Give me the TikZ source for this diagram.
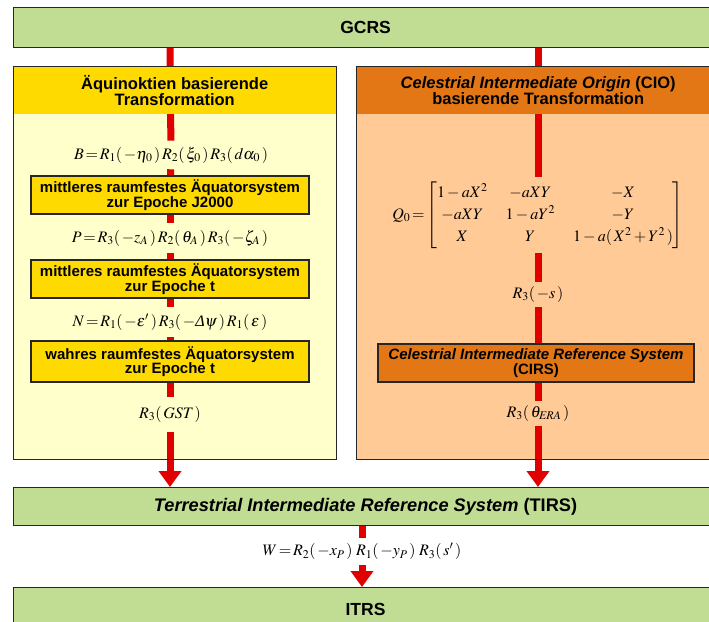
\documentclass[tikz,border=0pt]{standalone}
\usepackage{amsmath}
\usepackage{mathptmx}
\usepackage{fontspec}
\setmainfont{Liberation Serif}
\setsansfont{Liberation Sans}
\usetikzlibrary{arrows.meta}

\definecolor{titlegreen}{RGB}{192,221,147}
\definecolor{gold}{RGB}{255,218,0}
\definecolor{paleyellow}{RGB}{255,255,204}
\definecolor{peach}{RGB}{255,202,150}
\definecolor{burnt}{RGB}{227,119,22}
\definecolor{flowred}{RGB}{224,0,0}
\definecolor{edge}{RGB}{38,38,38}

% parenthesised rotation argument with a little air inside
\newcommand{\fpar}[1]{(\mkern2mu#1\mkern2mu)}

\pgfdeclarelayer{panels}
\pgfdeclarelayer{flowlayer}
\pgfsetlayers{panels,flowlayer,main}

\tikzset{
  flow/.style={draw=flowred, line width=7pt},
  flowtip/.style={flow, -{Triangle[width=22pt,length=16pt]}},
  titlebox/.style={draw=edge, line width=1.1pt, fill=titlegreen, anchor=north west,
    inner sep=0pt, minimum width=704pt,
    font=\sffamily\bfseries\fontsize{17.5}{19}\selectfont},
  panelbody/.style={anchor=north west, inner sep=0pt, minimum width=#1},
  panelhead/.style={anchor=north west, inner sep=0pt, minimum height=48pt,
    align=center, font=\sffamily\bfseries\fontsize{16.5}{16}\selectfont},
  stagebox/.style={draw=edge, line width=1.1pt, inner sep=0pt, align=center,
    font=\sffamily\bfseries\fontsize{15}{14.5}\selectfont},
  formula/.style={inner xsep=2pt, inner ysep=6pt, font=\fontsize{16}{17}\selectfont},
  frame/.style={draw=edge, line width=1pt},
}

\begin{document}
\begin{tikzpicture}[x=1pt,y=-1pt]
\useasboundingbox (0,0) rectangle (709,621);

% reference systems across the full width
\node[titlebox, minimum height=40pt] (gcrs) at (13,7) {GCRS};
\node[titlebox, minimum height=38pt, font=\sffamily\bfseries\fontsize{18.2}{19}\selectfont]
  (tirs) at (13,487) {\textit{Terrestrial Intermediate Reference System} (TIRS)};
\node[titlebox, minimum height=43pt] (itrs) at (13,587) {ITRS};

% the two transformation panels
\begin{pgfonlayer}{panels}
  \node[panelbody=323pt, minimum height=393pt, fill=paleyellow] (panelL) at (13,66) {};
  \node[panelbody=364pt, minimum height=393pt, fill=peach] (panelR) at (356,66) {};
\end{pgfonlayer}
\node[panelhead, minimum width=323pt, fill=gold] (headL) at (13,66)
  {Äquinoktien basierende\\Transformation};
\node[panelhead, minimum width=364pt, fill=burnt] (headR) at (356,66)
  {\textit{Celestrial Intermediate Origin} (CIO)\\basierende Transformation};
\draw[frame] (panelL.north west) rectangle (panelL.south east);
\draw[frame] (panelR.north west) rectangle (panelR.south east);

% equinox based chain
\node[formula] (B) at (171,155)
  {$B\!=\!R_1\fpar{-\eta_0}\,R_2\fpar{\xi_0}\,R_3\fpar{d\alpha_0}$};
\node[stagebox, fill=gold, minimum width=278pt, minimum height=38pt] (mean0) at (170,195)
  {mittleres raumfestes Äquatorsystem\\zur Epoche J2000};
\node[formula, inner ysep=6.5pt] (P) at (170,238)
  {$P\!=\!R_3\fpar{-z_A}\,R_2\fpar{\theta_A}\,R_3\fpar{-\zeta_A}$};
\node[stagebox, fill=gold, minimum width=278pt, minimum height=38pt] (meant) at (170,279)
  {mittleres raumfestes Äquatorsystem\\zur Epoche t};
\node[formula, inner ysep=6.5pt] (N) at (170,322)
  {$N\!=\!R_1\fpar{-\varepsilon'}\,R_3\fpar{-\textit{Δ}\psi}\,R_1\fpar{\varepsilon}$};
\node[stagebox, fill=gold, minimum width=278pt, minimum height=41pt] (truet) at (170,361.5)
  {wahres raumfestes Äquatorsystem\\zur Epoche t};
\node[formula, inner ysep=9.5pt] (GST) at (170,414.5) {$R_3\fpar{\mathit{GST}}$};

% CIO based chain
\node[formula, inner ysep=4pt] (Q) at (538,215)
  {\setlength{\arraycolsep}{9pt}\renewcommand{\arraystretch}{1.3}%
   $Q_0\!=\!\begin{bmatrix}
     1-aX^2 & -aXY & -X\\
     -aXY & 1-aY^2 & -Y\\
     X & Y & 1-a\fpar{X^2+Y^2}
   \end{bmatrix}$};
\node[formula, inner ysep=4.5pt] (S) at (538,294.5) {$R_3\fpar{-s}$};
\node[stagebox, fill=burnt, minimum width=316pt, minimum height=38pt] (cirs) at (536,363)
  {\textit{Celestrial Intermediate Reference System}\\(CIRS)};
\node[formula, inner ysep=4.5pt] (ERA) at (538,413.5) {$R_3\fpar{\theta_{\mathit{ERA}}}$};

% polar motion
\node[formula, inner ysep=5.5pt] (W) at (362,551.5)
  {$W\!=\!R_2\fpar{-x_P}\;R_1\fpar{-y_P}\;R_3\fpar{s'}$};

% red flow lines
\begin{pgfonlayer}{flowlayer}
  \draw[flow] (gcrs.south -| mean0) -- (B);
  \draw[flow] (B) -- (mean0);
  \draw[flow] (mean0) -- (P);
  \draw[flow] (P) -- (meant);
  \draw[flow] (meant) -- (N);
  \draw[flow] (N) -- (truet);
  \draw[flow] (truet.south -| GST) -- (GST);
  \draw[flowtip] (GST) -- (tirs.north -| GST);

  \draw[flow] (gcrs.south -| Q) -- (Q);
  \draw[flow] (Q) -- (S);
  \draw[flow] (S) -- (S |- cirs.north);
  \draw[flow] (cirs.south -| ERA) -- (ERA);
  \draw[flowtip] (ERA) -- (tirs.north -| ERA);

  \draw[flow] (tirs.south -| W) -- (W);
  \draw[flowtip] (W) -- (itrs.north -| W);
\end{pgfonlayer}
\end{tikzpicture}
\end{document}
